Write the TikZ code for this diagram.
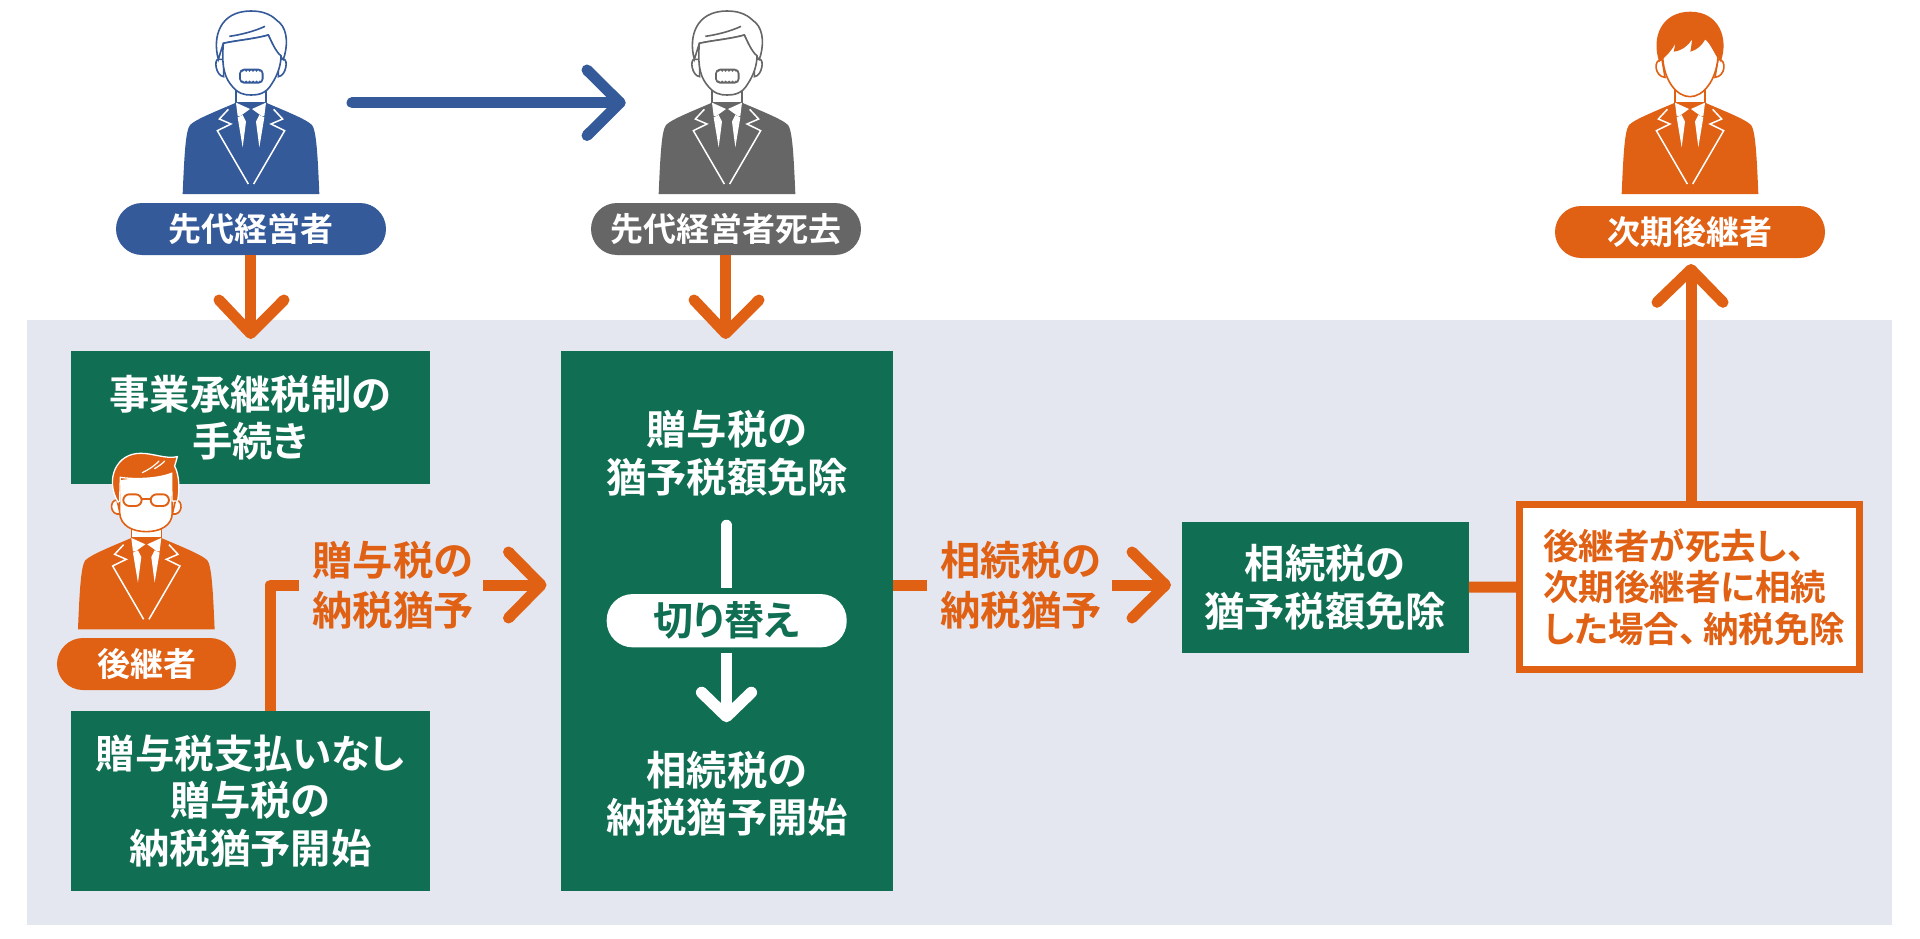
\documentclass[tikz,border=0pt]{standalone}
\usepackage{fontspec}
\setmainfont{Noto Sans CJK JP}[BoldFont={* Bold},RawFeature={+palt}]
\definecolor{panelc}{HTML}{E4E7EF}
\definecolor{greenc}{HTML}{106F52}
\definecolor{orangec}{HTML}{E06014}
\definecolor{bluec}{HTML}{345A9A}
\definecolor{grayc}{HTML}{666666}
\tikzset{
 x=1pt,y=-1pt,
 greenbox/.style={fill=greenc,text=white,inner sep=0pt,font=\bfseries\fontsize{40.3}{47.5}\selectfont,align=center},
 pill/.style={rounded corners=26pt,inner sep=0pt,text=white,font=\bfseries\fontsize{33}{38}\selectfont},
 conn/.style={draw=orangec,line width=11pt},
 chev/.style={line width=11pt,line cap=round,line join=round},
 lbl/.style={text=orangec,font=\bfseries\fontsize{40.3}{50}\selectfont,align=center,inner sep=0pt},
}
\newcommand\suitbody[3]{%
 \begin{scope}[shift={(#1,#2)},x=.3333pt,y=-.3333pt]
  \fill[#3] (-205,0) .. controls (-200,-120) and (-196,-190) .. (-183,-207)
    .. controls (-165,-225) and (-100,-250) .. (-45,-274) -- (45,-274)
    .. controls (100,-250) and (165,-225) .. (183,-207)
    .. controls (196,-190) and (200,-120) .. (205,0) -- cycle;
  \filldraw[fill=white,draw=#3,line width=1.6pt] (-45,-320) -- (-45,-274) -- (45,-274) -- (45,-320);
  \foreach \s in {1,-1}{
   \begin{scope}[xscale=\s]
    \fill[white] (-45,-274) -- (-3,-255) -- (-32,-234) -- (-40,-234) -- cycle;
    \fill[white] (-40,-230) -- (-25,-140) -- (-15,-217) -- (-25,-237) -- cycle;
    \draw[white,line width=1.5pt,line join=miter] (-68,-254) -- (-95,-225) -- (-60,-210) -- (-101,-190) -- (-8,-30);
   \end{scope}}
 \end{scope}}
\newcommand\oldhead[3]{%
 \begin{scope}[shift={(#1,#2)},x=.3333pt,y=-.3333pt]
  \begin{scope}[draw=#3,line width=1.6pt]
   \filldraw[fill=white] (-98,-404) .. controls (-112,-404) and (-106,-355) .. (-82,-352) -- (-82,-404) -- cycle;
   \filldraw[fill=white] (98,-404) .. controls (112,-404) and (106,-355) .. (82,-352) -- (82,-404) -- cycle;
   \filldraw[fill=white] (-98,-404) .. controls (-116,-470) and (-95,-549) .. (0,-549)
     .. controls (60,-549) and (75,-520) .. (85,-515) .. controls (112,-490) and (110,-440) .. (97,-404)
     .. controls (75,-420) and (60,-460) .. (52,-477)
     .. controls (10,-465) and (-50,-460) .. (-83,-452) -- cycle;
   \filldraw[fill=white] (-83,-452) .. controls (-87,-400) and (-85,-360) .. (-62,-330)
     .. controls (-40,-300) and (-20,-297) .. (0,-297)
     .. controls (20,-297) and (45,-300) .. (62,-330)
     .. controls (82,-360) and (90,-390) .. (90,-415)
     .. controls (75,-425) and (60,-460) .. (52,-477)
     .. controls (10,-465) and (-50,-460) .. (-83,-452) -- cycle;
   \draw (-65,-473) .. controls (-30,-478) and (10,-488) .. (42,-503);
   \fill[#3,rounded corners=5pt] (-36,-376) rectangle (38,-331);
   \fill[white,rounded corners=3pt] (-30,-370) rectangle (32,-337);
   \foreach \k in {0,...,5}{
     \fill[#3] (-25+\k*10.4,-370) circle[radius=3.6];
     \fill[#3] (-25+\k*10.4,-337) circle[radius=3.6];}
  \end{scope}
 \end{scope}}
\begin{document}
\begin{tikzpicture}
\useasboundingbox (0,0) rectangle (1920,939);
\fill[white] (0,0) rectangle (1920,939);
\fill[panelc] (27,319.5) rectangle (1892,925);

\suitbody{251}{194}{bluec}
\oldhead{251}{194}{bluec}
\suitbody{727}{194}{grayc}
\oldhead{727}{194}{grayc}
\suitbody{1690}{194}{orangec}
\begin{scope}[shift={(1690,194)},x=.3333pt,y=-.3333pt]
 \filldraw[fill=white,draw=orangec,line width=1.6pt] (-84,-404) .. controls (-112,-404) and (-106,-352) .. (-75,-350) -- cycle;
 \filldraw[fill=white,draw=orangec,line width=1.6pt] (84,-404) .. controls (112,-404) and (106,-352) .. (75,-350) -- cycle;
 \filldraw[fill=white,draw=orangec,line width=1.6pt] (-82,-410) .. controls (-78,-340) and (-40,-292) .. (0,-292)
   .. controls (40,-292) and (78,-340) .. (84,-410) -- (50,-470) -- (-50,-470) -- cycle;
 \fill[orangec] (-92,-396) .. controls (-118,-470) and (-85,-547) .. (1,-547)
   .. controls (85,-547) and (118,-470) .. (92,-396)
   .. controls (80,-420) and (65,-445) .. (46,-464)
   .. controls (35,-445) and (20,-432) .. (1,-427)
   .. controls (4,-440) and (5,-455) .. (6,-464)
   .. controls (-5,-445) and (-25,-430) .. (-49,-427)
   .. controls (-47,-435) and (-45,-445) .. (-44,-452)
   .. controls (-55,-430) and (-70,-415) .. (-92,-396) -- cycle;
\end{scope}

\coordinate (movestart) at (352,102.7);
\coordinate (movetip) at (620,102.7);
\draw[bluec,chev] (movestart) -- (movetip);
\draw[bluec,chev] (587,70) -- (movetip) -- (587,135.5);

\node[pill,fill=bluec,minimum width=270pt,minimum height=52pt] (p1) at (251,229) {先代経営者};
\node[pill,fill=grayc,minimum width=270pt,minimum height=52pt] (p2) at (726,229) {先代経営者死去};
\node[pill,fill=orangec,minimum width=270pt,minimum height=52pt] (p3) at (1690,232) {次期後継者};

\node[greenbox,minimum width=359.3pt,minimum height=133.6pt] (b1) at (250.4,417.5) {事業承継税制の\\手続き};
\node[greenbox,minimum width=359.3pt,minimum height=180.3pt] (b2) at (250.4,800.9) {{\fontsize{39.4}{47.5}\selectfont 贈与税支払いなし}\\贈与税の\\納税猶予開始};
\node[fill=greenc,minimum width=332pt,minimum height=540.3pt,inner sep=0pt] (b3) at (727,620.9) {};
\node[greenbox] (b3a) at (727,453) {贈与税の\\猶予税額免除};
\node[greenbox] (b3b) at (727,794) {相続税の\\納税猶予開始};
\node[fill=white,rounded corners=26pt,minimum width=240pt,minimum height=53.3pt,inner sep=0pt,text=greenc,font=\bfseries\fontsize{40}{46}\selectfont] (sw) at (726.7,620.7) {切り替え};
\node[greenbox,minimum width=287pt,minimum height=131pt] (b4) at (1325.2,587.2) {相続税の\\猶予税額免除};
\node[draw=orangec,line width=7pt,fill=white,minimum width=339.5pt,minimum height=165pt,inner sep=0pt] (b5) at (1689.7,587) {};
\node[text=orangec,align=left,inner sep=0pt,anchor=west,font=\bfseries\fontsize{35.5}{41.5}\selectfont] (b5t) at (1543,587) {後継者が死去し、\\次期後継者に相続\\した場合、\kern6pt 納税免除};

\coordinate (swtop) at (726.5,525.5);
\coordinate (swa) at (726.5,588);
\draw[white,line width=11.5pt,line cap=round] (swtop) -- (726.5,575);
\draw[white,line width=11.5pt] (726.5,575) -- (swa);
\coordinate (swb) at (726.5,652.7);
\coordinate (swtip) at (726.5,716.5);
\draw[white,line width=11.5pt] (swb) -- (swtip);
\draw[white,chev,line width=11.5pt] (701.7,692.5) -- (swtip) -- (751.3,692.5);

\coordinate (d1) at (250.7,333.5);
\draw[conn] (p1.south -| d1) -- (d1);
\draw[orangec,chev] (219,300) -- (d1) -- (284,300);
\coordinate (d2) at (725.7,333.5);
\draw[conn] (p2.south -| d2) -- (d2);
\draw[orangec,chev] (694,300) -- (d2) -- (759,300);
\coordinate (u1) at (1691,269.5);
\draw[conn] (b5.north -| u1) -- (u1);
\draw[orangec,chev] (1657,302.3) -- (u1) -- (1723,302.3);

\suitbody{146.3}{629.3}{orangec}
\begin{scope}[shift={(146.3,629.3)},x=.3333pt,y=-.3333pt]
 \filldraw[fill=white,draw=orangec,line width=1.6pt] (-88,-388) .. controls (-112,-388) and (-110,-340) .. (-78,-346) -- cycle;
 \filldraw[fill=white,draw=orangec,line width=1.6pt] (88,-388) .. controls (112,-388) and (110,-340) .. (78,-346) -- cycle;
 \filldraw[fill=white,draw=orangec,line width=1.6pt] (-80,-450) -- (-80,-350) .. controls (-78,-310) and (-40,-293) .. (0,-293)
   .. controls (40,-293) and (78,-310) .. (78,-350) -- (78,-470) -- cycle;
 \filldraw[fill=orangec,draw=white,line width=1.3pt] (-85,-382) .. controls (-125,-450) and (-90,-530) .. (-15,-528)
   .. controls (20,-528) and (60,-510) .. (93,-518)
   .. controls (90,-505) and (88,-500) .. (85,-490)
   .. controls (100,-460) and (100,-420) .. (94,-385) -- (77,-385) -- (76,-468)
   .. controls (30,-450) and (-40,-450) .. (-78,-456) -- (-80,-385) -- cycle;
 \draw[white,line width=1.2pt,line cap=round] (-12,-470) .. controls (5,-478) and (25,-490) .. (38,-505);
 \draw[white,line width=1.2pt,line cap=round] (25,-482) .. controls (35,-488) and (50,-498) .. (55,-505);
 \draw[orangec,line width=1.9pt,rounded corners=6pt] (-69,-405) rectangle (-14,-370);
 \draw[orangec,line width=1.9pt,rounded corners=6pt] (13,-405) rectangle (68,-370);
 \draw[orangec,line width=1.9pt] (-14,-392) -- (13,-392);
\end{scope}
\node[pill,fill=orangec,minimum width=179pt,minimum height=52pt] (p4) at (146.5,664) {後継者};

\coordinate (lcorner) at (270.5,585);
\coordinate (lend) at (299,585);
\draw[conn,line join=round] (b2.north -| lcorner) -- (lcorner) -- (lend);
\node[lbl] (t1) at (393,585) {贈与税の\\納税猶予};
\coordinate (a1s) at (483,585);
\coordinate (a1t) at (541,585);
\draw[orangec,chev,line cap=butt] (a1s) -- (a1t);
\draw[orangec,chev] (508.5,552) -- (a1t) -- (508.5,618);

\coordinate (s2) at (926.7,585);
\draw[conn] (b3.east |- s2) -- (s2);
\node[lbl] (t2) at (1021,585) {相続税の\\納税猶予};
\coordinate (a2s) at (1111.7,585);
\coordinate (a2t) at (1165.5,585);
\draw[orangec,chev,line cap=butt] (a2s) -- (a2t);
\draw[orangec,chev] (1132,552) -- (a2t) -- (1132,618);
\draw[conn] (b4.east) -- (b5.west);
\end{tikzpicture}
\end{document}
